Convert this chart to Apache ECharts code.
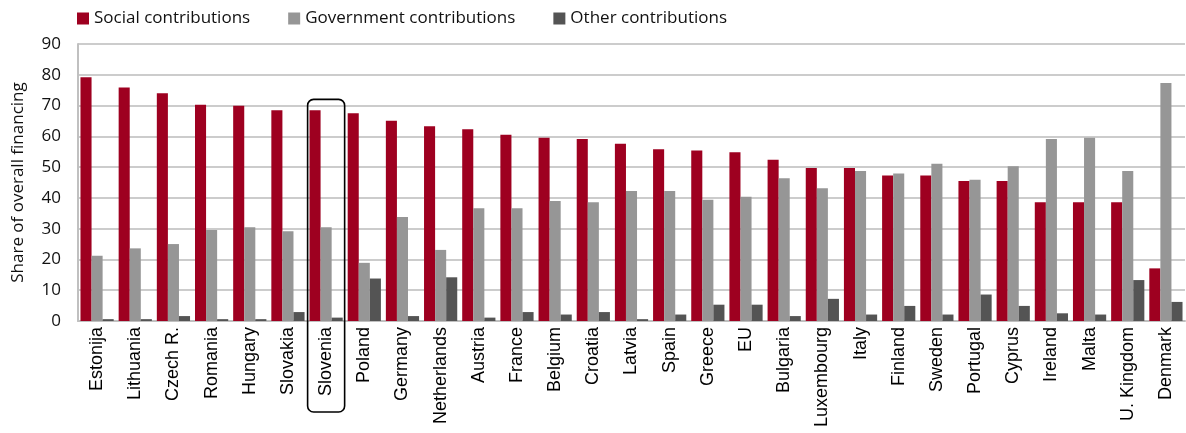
<!DOCTYPE html>
<html>
<head>
<meta charset="utf-8">
<script src="https://cdn.jsdelivr.net/npm/echarts@6/dist/echarts.min.js"></script>
<style>
  html, body { margin: 0; padding: 0; background: #ffffff; }
  #chart { width: 1186px; height: 433px; }
</style>
</head>
<body>
<div id="chart"></div>
<script>
// Financing structure by country (share of overall financing, %)
const countries = ['Estonija', 'Lithuania', 'Czech R.', 'Romania', 'Hungary', 'Slovakia', 'Slovenia',
  'Poland', 'Germany', 'Netherlands', 'Austria', 'France', 'Belgium', 'Croatia', 'Latvia', 'Spain',
  'Greece', 'EU', 'Bulgaria', 'Luxembourg', 'Italy', 'Finland', 'Sweden', 'Portugal', 'Cyprus',
  'Ireland', 'Malta', 'U. Kingdom', 'Denmark'];

const socialContributions = [79.2, 75.9, 74.0, 70.3, 69.9, 68.5, 68.5, 67.5, 65.1, 63.3, 62.3, 60.5,
  59.5, 59.1, 57.6, 55.8, 55.4, 54.8, 52.4, 49.7, 49.7, 47.3, 47.3, 45.5, 45.5, 38.6, 38.6, 38.6, 17.1];

const governmentContributions = [21.2, 23.6, 25.0, 29.6, 30.5, 29.2, 30.5, 18.9, 33.8, 23.1, 36.6, 36.6,
  39.0, 38.6, 42.2, 42.2, 39.4, 40.4, 46.4, 43.1, 48.7, 47.9, 51.1, 45.9, 50.3, 59.1, 59.5, 48.7, 77.3];

const otherContributions = [0.6, 0.6, 1.6, 0.6, 0.6, 2.9, 1.1, 13.8, 1.6, 14.2, 1.1, 2.9,
  2.1, 2.9, 0.6, 2.1, 5.3, 5.3, 1.6, 7.2, 2.1, 4.9, 2.1, 8.6, 4.9, 2.5, 2.1, 13.3, 6.2];

const yTicks = { min: 0, max: 90, interval: 10 };
const highlighted = 'Slovenia';

const chart = echarts.init(document.getElementById('chart'), null, { renderer: 'canvas' });

const barStyle = (color) => ({
  type: 'bar',
  barGap: '0%',
  barCategoryGap: '13%',
  itemStyle: { color: color },
  emphasis: { disabled: true }
});

chart.setOption({
  animation: false,
  textStyle: { fontFamily: '"Open Sans", "Noto Sans", sans-serif' },
  legend: {
    top: 5,
    left: 72,
    itemWidth: 12,
    itemHeight: 12,
    itemGap: 38,
    icon: 'rect',
    textStyle: { fontSize: 17, color: '#111111', fontFamily: '"Open Sans", sans-serif' },
    data: ['Social contributions', 'Government contributions', 'Other contributions']
  },
  grid: { left: 78, right: 1, top: 44, bottom: 112, containLabel: false },
  xAxis: {
    type: 'category',
    data: countries,
    axisTick: { show: false },
    axisLine: { show: true, lineStyle: { color: '#c0c0c0', width: 2 } },
    axisLabel: {
      rotate: 90,
      interval: 0,
      margin: 6,
      fontSize: 18,
      color: '#000000',
      fontFamily: '"Liberation Sans", Arial, sans-serif'
    }
  },
  yAxis: {
    type: 'value',
    min: yTicks.min,
    max: yTicks.max,
    interval: yTicks.interval,
    name: 'Share of overall financing',
    nameLocation: 'middle',
    nameRotate: 90,
    nameGap: 51,
    nameTextStyle: { fontSize: 17, color: '#111111', fontFamily: '"Open Sans", sans-serif' },
    axisLine: { show: true, lineStyle: { color: '#c0c0c0', width: 2 } },
    axisTick: { show: false },
    axisLabel: { fontSize: 17, color: '#111111', margin: 17 },
    splitLine: { lineStyle: { color: '#cccccc', width: 2 } }
  },
  series: [
    Object.assign(barStyle('#9e0020'), { name: 'Social contributions', data: socialContributions }),
    Object.assign(barStyle('#969696'), { name: 'Government contributions', data: governmentContributions }),
    Object.assign(barStyle('#545454'), { name: 'Other contributions', data: otherContributions })
  ]
});

// Rounded frame around the highlighted country's bars and label
function drawHighlight() {
  const idx = countries.indexOf(highlighted);
  const centerX = chart.convertToPixel({ xAxisIndex: 0 }, idx);
  const nextX = chart.convertToPixel({ xAxisIndex: 0 }, idx + 1);
  const band = nextX - centerX;
  const topY = chart.convertToPixel({ yAxisIndex: 0 }, 72.0);
  const baseY = chart.convertToPixel({ yAxisIndex: 0 }, 0);
  const halfW = band * 0.485;
  chart.setOption({
    graphic: [{
      type: 'rect',
      shape: { x: centerX - halfW, y: topY, width: halfW * 2, height: baseY + 91 - topY, r: 6 },
      style: { fill: 'none', stroke: '#000000', lineWidth: 1.6 },
      z: 100
    }]
  });
}
drawHighlight();
</script>
</body>
</html>
